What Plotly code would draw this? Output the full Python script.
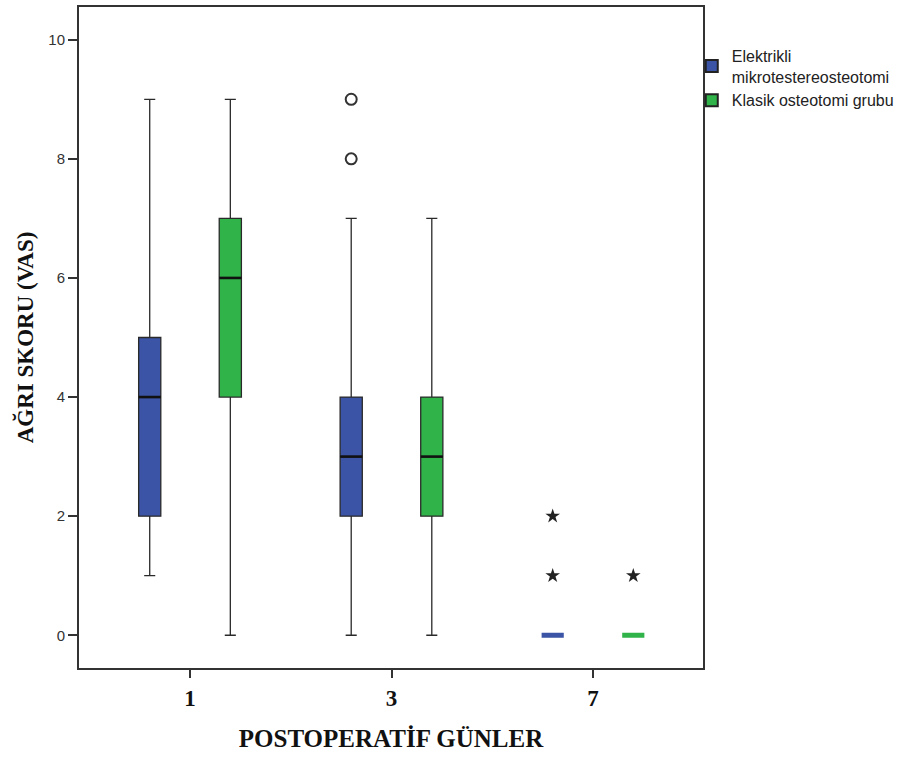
import plotly.graph_objects as go

# Postoperative days (categories on the x axis)
days = ["1", "3", "7"]
groups = ["Elektrikli<br>mikrotestereosteotomi", "Klasik osteotomi grubu"]
colors = ["#3B54A6", "#30B449"]

# Box statistics per group, one value per day
lower_e = [1, 0, 0]
q1_e = [2, 2, 0]
median_e = [4, 3, 0]
q3_e = [5, 4, 0]
upper_e = [9, 7, 0]

lower_k = [0, 0, 0]
q1_k = [4, 2, 0]
median_k = [6, 3, 0]
q3_k = [7, 4, 0]
upper_k = [9, 7, 0]

# Outliers (circles) and extreme values (stars): (day index, value)
outliers_e = [(1, 8), (1, 9)]
extremes_e = [(2, 1), (2, 2)]
outliers_k = []
extremes_k = [(2, 1)]

y_ticks = [0, 2, 4, 6, 8, 10]

OFFSET = 0.2
BOX_W = 0.11

stats = [
    (lower_e, q1_e, median_e, q3_e, upper_e, outliers_e, extremes_e, -OFFSET),
    (lower_k, q1_k, median_k, q3_k, upper_k, outliers_k, extremes_k, OFFSET),
]

fig = go.Figure()

for g, (lo, q1, md, q3, up, outl, extr, off) in enumerate(stats):
    color = colors[g]
    for i in range(len(days)):
        degenerate = (lo[i] == q1[i] == md[i] == q3[i] == up[i])
        fig.add_trace(go.Box(
            x=[i + off], lowerfence=[lo[i]], q1=[q1[i]], median=[md[i]],
            q3=[q3[i]], upperfence=[up[i]],
            width=BOX_W,
            fillcolor=color,
            line=dict(color=color if degenerate else "#2a2a2a",
                      width=5 if degenerate else 1.3),
            whiskerwidth=0.5,
            boxpoints=False,
            showlegend=False, hoverinfo="skip",
        ))
        if not degenerate:
            # thicker median bar
            fig.add_trace(go.Scatter(
                x=[i + off - BOX_W / 2, i + off + BOX_W / 2],
                y=[md[i], md[i]], mode="lines",
                line=dict(color="#111111", width=2.6),
                showlegend=False, hoverinfo="skip",
            ))
    if outl:
        fig.add_trace(go.Scatter(
            x=[d + off for d, _ in outl], y=[v for _, v in outl],
            mode="markers",
            marker=dict(symbol="circle-open", size=11, color="#333333",
                        line=dict(color="#333333", width=2)),
            showlegend=False, hoverinfo="skip",
        ))
    if extr:
        fig.add_trace(go.Scatter(
            x=[d + off for d, _ in extr], y=[v for _, v in extr],
            mode="markers",
            marker=dict(symbol="star", size=11, color="#222222",
                        line=dict(width=0)),
            showlegend=False, hoverinfo="skip",
        ))

# legend entries
for g in range(2):
    fig.add_trace(go.Scatter(
        x=[None], y=[None], mode="markers", name=groups[g],
        marker=dict(symbol="square", size=16, color=colors[g],
                    line=dict(color="#222222", width=1)),
    ))

fig.update_layout(
    width=922, height=758,
    margin=dict(l=79, r=219, t=5, b=90),
    paper_bgcolor="white", plot_bgcolor="white",
    showlegend=True,
    legend=dict(x=0.982, y=0.952, xanchor="left", yanchor="top",
                font=dict(family="Liberation Sans, Arial", size=16, color="#222222"),
                bgcolor="rgba(0,0,0,0)", tracegroupgap=0, itemsizing="constant"),
    font=dict(family="Liberation Sans, Arial", color="#333333"),
)

fig.update_xaxes(
    range=[-0.551, 2.546],
    tickmode="array", tickvals=list(range(len(days))),
    ticktext=["<b>%s</b>" % d for d in days],
    tickfont=dict(family="Liberation Serif, Times New Roman", size=23, color="#111111"),
    ticks="outside", ticklen=8, tickwidth=1.5, tickcolor="#333333",
    showline=True, linecolor="#333333", linewidth=2, mirror=True,
    showgrid=False, zeroline=False,
    title=dict(text="<b>POSTOPERATİF GÜNLER</b>",
               font=dict(family="Liberation Serif, Times New Roman", size=25, color="#111111"),
               standoff=20),
)
fig.update_yaxes(
    range=[-0.55, 10.55],
    tickmode="array", tickvals=y_ticks, ticktext=[str(v) for v in y_ticks],
    tickfont=dict(family="Liberation Sans, Arial", size=15, color="#333333"),
    ticks="outside", ticklen=9, tickwidth=1.5, tickcolor="#333333",
    showline=True, linecolor="#333333", linewidth=2, mirror=True,
    showgrid=False, zeroline=False,
    title=dict(text="<b>AĞRI SKORU (VAS)</b>",
               font=dict(family="Liberation Serif, Times New Roman", size=23, color="#111111"),
               standoff=8),
)

fig.write_html("out.html")
